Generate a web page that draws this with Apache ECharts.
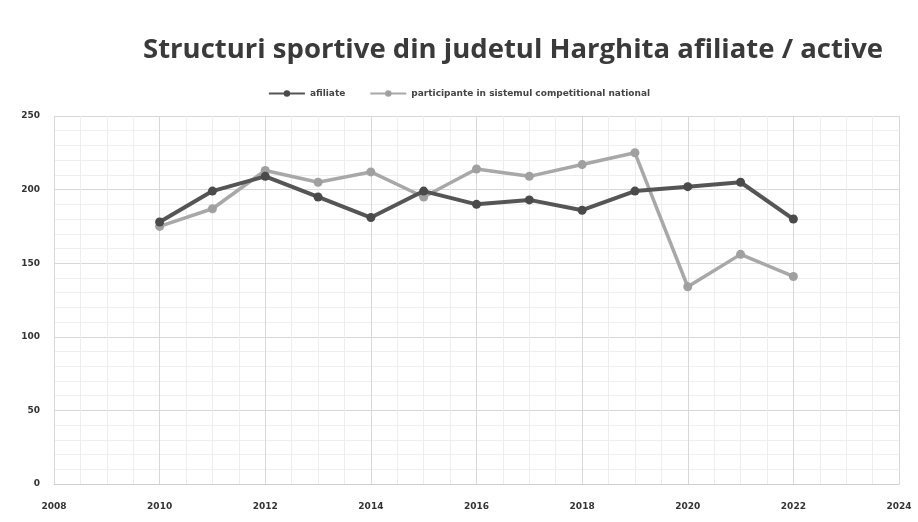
<!DOCTYPE html>
<html>
<head>
<meta charset="utf-8">
<script src="https://cdn.jsdelivr.net/npm/echarts@6/dist/echarts.min.js"></script>
<style>
  html, body { margin: 0; padding: 0; background: #fff; }
  #chart { width: 918px; height: 522px; }
</style>
</head>
<body>
<div id="chart"></div>
<script>
var years = [2010, 2011, 2012, 2013, 2014, 2015, 2016, 2017, 2018, 2019, 2020, 2021, 2022];
var afiliate = [178, 199, 209, 195, 181, 199, 190, 193, 186, 199, 202, 205, 180];
var participante = [175, 187, 213, 205, 212, 195, 214, 209, 217, 225, 134, 156, 141];
var seriesNames = ['afiliate', 'participante in sistemul competitional national'];

function pairs(vals) {
  return years.map(function (y, i) { return [y, vals[i]]; });
}

var chart = echarts.init(document.getElementById('chart'));
chart.setOption({
  backgroundColor: '#ffffff',
  animation: false,
  title: {
    text: 'Structuri sportive din judetul Harghita afiliate / active',
    left: 138,
    top: 31,
    textStyle: { fontFamily: 'Open Sans', fontWeight: 'bold', fontSize: 27.5, color: '#3a3a3a' }
  },
  legend: {
    top: 84,
    left: 'center',
    itemWidth: 36,
    itemHeight: 8,
    itemGap: 24,
    textStyle: { fontFamily: 'DejaVu Sans', fontWeight: 'bold', fontSize: 9, color: '#444' },
    data: seriesNames
  },
  grid: { left: 54, right: 19, top: 116, bottom: 38 },
  xAxis: {
    type: 'value',
    min: 2008,
    max: 2024,
    interval: 2,
    axisLine: { show: true, lineStyle: { color: '#cfcfcf', width: 1 } },
    axisTick: { show: false },
    axisLabel: {
      fontFamily: 'DejaVu Sans', fontWeight: 'bold', fontSize: 9, color: '#333', margin: 18,
      formatter: function (v) { return String(v); }
    },
    splitLine: { show: true, lineStyle: { color: '#d8d8d8' } },
    minorTick: { show: false, splitNumber: 4 },
    minorSplitLine: { show: true, lineStyle: { color: '#eeeeee' } }
  },
  yAxis: {
    type: 'value',
    min: 0,
    max: 250,
    interval: 50,
    axisLine: { show: false },
    axisTick: { show: false },
    axisLabel: { fontFamily: 'DejaVu Sans', fontWeight: 'bold', fontSize: 9, color: '#333', margin: 14 },
    splitLine: { show: true, lineStyle: { color: '#d8d8d8' } },
    minorTick: { show: false, splitNumber: 5 },
    minorSplitLine: { show: true, lineStyle: { color: '#efefef' } }
  },
  series: [
    {
      name: seriesNames[0],
      type: 'line',
      data: pairs(afiliate),
      symbol: 'circle',
      symbolSize: 9,
      z: 3,
      lineStyle: { color: '#555555', width: 4 },
      itemStyle: { color: '#4a4a4a' }
    },
    {
      name: seriesNames[1],
      type: 'line',
      data: pairs(participante),
      symbol: 'circle',
      symbolSize: 9,
      z: 2,
      lineStyle: { color: '#a8a8a8', width: 3.5 },
      itemStyle: { color: '#a0a0a0' }
    }
  ]
});
</script>
</body>
</html>
